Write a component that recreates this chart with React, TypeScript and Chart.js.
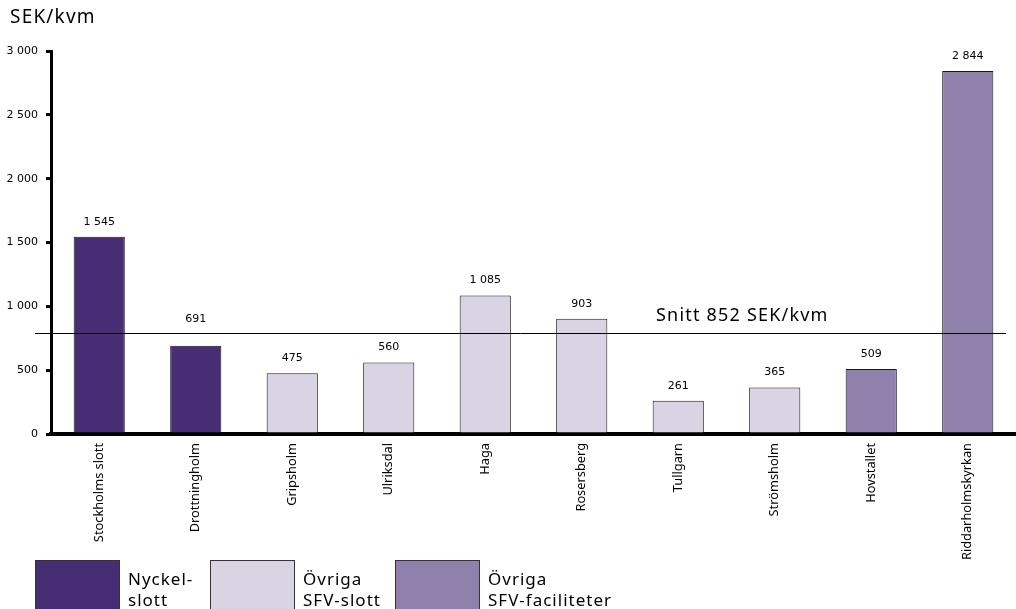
import React, { useEffect, useRef } from "react";
import { Chart, registerables } from "chart.js";

Chart.register(...registerables);

const categories = [
  "Stockholms slott",
  "Drottningholm",
  "Gripsholm",
  "Ulriksdal",
  "Haga",
  "Rosersberg",
  "Tullgarn",
  "Strömsholm",
  "Hovstallet",
  "Riddarholmskyrkan",
];
const values = [1545, 691, 475, 560, 1085, 903, 261, 365, 509, 2844];
const groupOf = [0, 0, 1, 1, 1, 1, 1, 1, 2, 2];
const groupColors = ["#472D74", "#D8D4E4", "#8F80AC"];
const legendLabels = [
  ["Nyckel-", "slott"],
  ["Övriga", "SFV-slott"],
  ["Övriga", "SFV-faciliteter"],
];
const yTicks = [0, 500, 1000, 1500, 2000, 2500, 3000];
const snittLineValue = 793;
const snittText = "Snitt 852 SEK/kvm";
const unitTitle = "SEK/kvm";

const fmt = (v: number) => String(v).replace(/\B(?=(\d{3})+(?!\d))/g, " ");

const W = 1016;
const H = 609;
const BIG = "'Noto Sans'";
const NUM = "'DejaVu Sans'";

const overlayPlugin = {
  id: "overlay",
  afterDatasetsDraw(chart: any) {
    const ctx = chart.ctx;
    const meta = chart.getDatasetMeta(0);
    const lineY = Math.round(chart.scales.y.getPixelForValue(snittLineValue)) + 0.5;
    ctx.save();
    ctx.fillStyle = "#000";
    ctx.font = `11px ${NUM}`;
    ctx.textAlign = "center";
    ctx.textBaseline = "middle";
    meta.data.forEach((bar: any, i: number) => {
      let ly = bar.y - 15;
      if (Math.abs(ly - lineY) < 9) ly = lineY - 14;
      ctx.fillText(fmt(values[i]), bar.x, ly);
    });
    ctx.strokeStyle = "#000";
    ctx.lineWidth = 1;
    ctx.beginPath();
    ctx.moveTo(35, lineY);
    ctx.lineTo(1006, lineY);
    ctx.stroke();
    ctx.font = `18px ${BIG}`;
    (ctx as any).letterSpacing = "1.2px";
    ctx.textAlign = "left";
    ctx.fillText(snittText, 656, lineY - 18);
    ctx.restore();
  },
  afterDraw(chart: any) {
    const ctx = chart.ctx;
    ctx.save();
    ctx.fillStyle = "#000";
    ctx.font = `19px ${BIG}`;
    (ctx as any).letterSpacing = "1.2px";
    ctx.textAlign = "left";
    ctx.textBaseline = "middle";
    ctx.fillText(unitTitle, 10, 18);
    const xs = [35, 210, 395];
    legendLabels.forEach((lines, i) => {
      const x = xs[i];
      ctx.fillStyle = groupColors[i];
      ctx.fillRect(x, 560, 84, 60);
      ctx.strokeStyle = "#333";
      ctx.lineWidth = 1;
      ctx.strokeRect(x + 0.5, 560.5, 84, 60);
      ctx.fillStyle = "#000";
      ctx.font = `17px ${BIG}`;
      (ctx as any).letterSpacing = "1px";
      ctx.fillText(lines[0], x + 93, 580);
      ctx.fillText(lines[1], x + 93, 601);
    });
    ctx.restore();
  },
};

export default function App() {
  const ref = useRef<HTMLCanvasElement | null>(null);
  useEffect(() => {
    document.body.style.margin = "0";
    const canvas = ref.current!;
    const chart = new Chart(canvas, {
      type: "bar",
      data: {
        labels: categories,
        datasets: [
          {
            data: values,
            backgroundColor: values.map((_, i) => groupColors[groupOf[i]]),
            borderColor: "#1a1a1a",
            borderWidth: 1,
            barPercentage: 0.53,
            categoryPercentage: 1,
          },
        ],
      },
      options: {
        animation: false,
        responsive: false,
        devicePixelRatio: 1,
        layout: { padding: { top: 51, left: 0, right: 0, bottom: 0 } },
        plugins: {
          legend: { display: false },
          tooltip: { enabled: false },
        },
        scales: {
          x: {
            grid: { display: false, drawTicks: false },
            border: { display: true, color: "#000", width: 4 },
            ticks: {
              color: "#000",
              font: { family: BIG, size: 12.8 },
              minRotation: 90,
              maxRotation: 90,
              padding: 9,
              autoSkip: false,
            },
            afterFit(scale: any) {
              scale.height = H - 434;
            },
          },
          y: {
            min: 0,
            max: 3000,
            afterBuildTicks(scale: any) {
              scale.ticks = yTicks.map((v) => ({ value: v }));
            },
            grid: {
              drawOnChartArea: false,
              drawTicks: true,
              tickLength: 5,
              color: "#000",
              lineWidth: 3,
            },
            border: { display: true, color: "#000", width: 3 },
            ticks: {
              color: "#000",
              font: { family: NUM, size: 11 },
              padding: 8,
              callback: (v: any) => fmt(Number(v)),
            },
            afterFit(scale: any) {
              scale.width = 51;
            },
          },
        },
      },
      plugins: [overlayPlugin],
    });
    return () => chart.destroy();
  }, []);
  return (
    <div style={{ position: "absolute", left: 0, top: 0, width: W, height: H, background: "#fff" }}>
      <canvas ref={ref} width={W} height={H} style={{ display: "block", width: W, height: H }} />
    </div>
  );
}
